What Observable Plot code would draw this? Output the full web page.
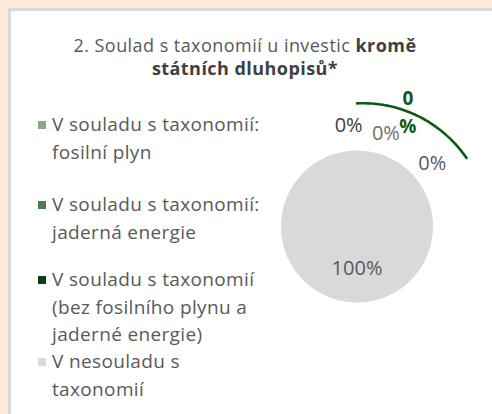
<!DOCTYPE html>
<html>
<head>
<meta charset="utf-8">
<script src="https://cdn.jsdelivr.net/npm/d3@7"></script>
<script src="https://cdn.jsdelivr.net/npm/@observablehq/plot@0.6"></script>
<style>
  html, body { margin: 0; padding: 0; }
  body { width: 492px; height: 414px; background: #fce9d8; position: relative; overflow: hidden; font-family: "Open Sans", sans-serif; }
  #panel { position: absolute; left: 8px; top: 8px; width: 484px; height: 406px; background: #fff; border-left: 3px solid #d9d9d9; border-top: 3px solid #d9d9d9; box-sizing: border-box; }
  .tl { position: absolute; left: 0; width: 490px; text-align: center; color: #595959; font-size: 18px; line-height: 22px; letter-spacing: 0.45px; white-space: nowrap; }
  .tl b { color: #404040; }
  .leg { position: absolute; left: 52px; color: #595959; font-size: 19px; line-height: 27.5px; letter-spacing: 0.35px; white-space: nowrap; }
  .sw { position: absolute; left: -14px; top: 10px; width: 8px; height: 8px; }
  #chart { position: absolute; left: 0; top: 0; }
</style>
</head>
<body>
<div id="panel"></div>
<div class="tl" style="top:34px">2. Soulad s taxonomií u investic <b>kromě</b></div>
<div class="tl" style="top:57px"><b>státních dluhopisů*</b></div>
<div id="legend"></div>
<div id="chart"></div>
<script>
// ---- data ----
const categories = [
  "V souladu s taxonomií: fosilní plyn",
  "V souladu s taxonomií: jaderná energie",
  "V souladu s taxonomií (bez fosilního plynu a jaderné energie)",
  "V nesouladu s taxonomií"
];
const legendLines = [
  ["V souladu s taxonomií:", "fosilní plyn"],
  ["V souladu s taxonomií:", "jaderná energie"],
  ["V souladu s taxonomií", "(bez fosilního plynu a", "jaderné energie)"],
  ["V nesouladu s", "taxonomií"]
];
const values = [0, 0, 0, 100];
const colors = ["#8ba98a", "#4e7d50", "#0c3f14", "#d9d9d9"];
const dataLabels = ["0%", "0%", "0\n%", "0%", "100%"];

// ---- layout (not data) ----
const legendTops = [111, 191, 266, 348];
const labelPlacement = [ // polar offsets in pie radii: [x, y]
  [-0.11, 1.33], [0.38, 1.22], [0.67, 1.53], [0.99, 0.83], [0.0, -0.55]
];
const labelColors = ["#404040", "#6f6f6f", "#0e5a17", "#595959", "#595959"];

// legend
const leg = document.getElementById("legend");
legendLines.forEach((lines, i) => {
  const d = document.createElement("div");
  d.className = "leg";
  d.style.top = legendTops[i] + "px";
  d.innerHTML = `<span class="sw" style="background:${colors[i]}"></span>` + lines.join("<br>");
  leg.appendChild(d);
});

// pie geometry
const W = 492, H = 414, cx = 356.5, cy = 226, R = 76;
const pie = d3.pie().sort(null).value(d => d.value).startAngle(0).endAngle(2 * Math.PI);
const arcs = pie(categories.map((c, i) => ({key: c, value: values[i], color: colors[i]})));
const slices = arcs.filter(a => a.endAngle > a.startAngle).map(a => {
  const pts = [];
  const full = a.endAngle - a.startAngle >= 2 * Math.PI - 1e-9;
  if (!full) pts.push({x: 0, y: 0});
  const n = 180;
  for (let k = 0; k <= n; k++) {
    const t = a.startAngle + (a.endAngle - a.startAngle) * k / n;
    pts.push({x: Math.sin(t), y: Math.cos(t)});
  }
  return {color: a.data.color, pts};
});

// dark green leader arc
const arcPts = d3.range(0, 59, 1).map(deg => {
  const t = deg * Math.PI / 180;
  const r = 1.62 + 0.08 * deg / 58;
  return {x: Math.sin(t) * r, y: Math.cos(t) * r};
});

const labels = dataLabels.map((t, i) => ({text: t, x: labelPlacement[i][0], y: labelPlacement[i][1], color: labelColors[i], bold: i === 2}));

const chart = Plot.plot({
  width: W, height: H,
  marginLeft: 0, marginRight: 0, marginTop: 0, marginBottom: 0,
  x: {domain: [-cx / R, (W - cx) / R], axis: null},
  y: {domain: [-(H - cy) / R, cy / R], axis: null},
  style: {background: "transparent", overflow: "visible"},
  marks: [
    ...slices.map(s => Plot.line(s.pts, {x: "x", y: "y", fill: s.color, stroke: "none", curve: "linear"})),
    Plot.line(arcPts, {x: "x", y: "y", stroke: "#0e5a17", strokeWidth: 2.6}),
    Plot.text(labels.filter(d => !d.bold), {x: "x", y: "y", text: "text", fill: "color", fontSize: 20, fontFamily: "Open Sans"}),
    Plot.text(labels.filter(d => d.bold), {x: "x", y: "y", text: "text", fill: "color", fontSize: 19, fontWeight: "bold", lineHeight: 1.45, fontFamily: "Open Sans"})
  ]
});
document.getElementById("chart").appendChild(chart);
</script>
</body>
</html>
